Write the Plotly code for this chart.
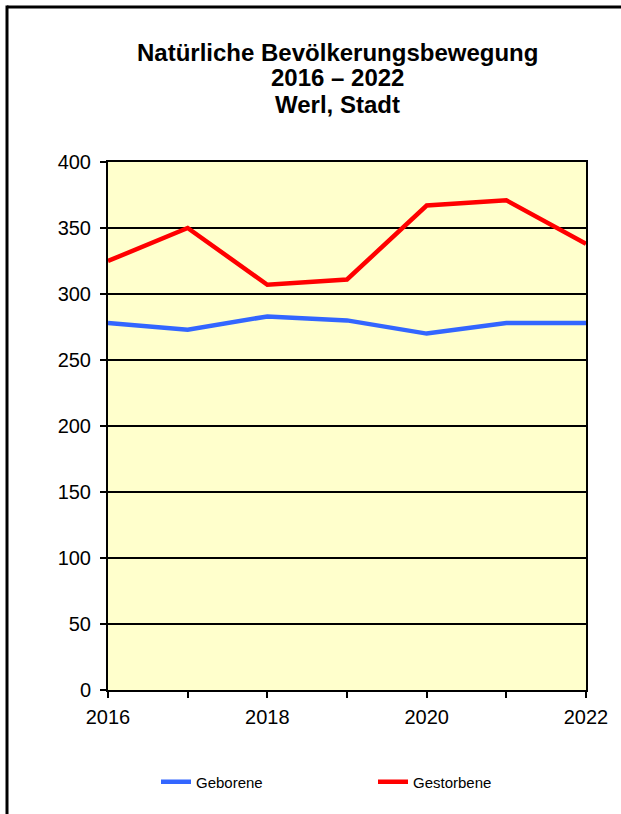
import plotly.graph_objects as go

years = [2016, 2017, 2018, 2019, 2020, 2021, 2022]
geborene = [278, 273, 283, 280, 270, 278, 278]
gestorbene = [325, 350, 307, 311, 367, 371, 338]
title_lines = ["Natürliche Bevölkerungsbewegung", "2016 – 2022", "Werl, Stadt"]
x_tick_labels = [2016, 2018, 2020, 2022]

W, H = 621, 814
L, R, T, B = 108, 586, 162, 690
pw, ph = R - L, B - T


def px_x(px):
    return (px - L) / pw


def px_y(py):
    return (B - py) / ph


font = "Liberation Sans, Arial, sans-serif"

fig = go.Figure()
fig.add_trace(go.Scatter(x=years, y=geborene, mode="lines", name="Geborene",
                         line=dict(color="#3366FF", width=4.5), legend="legend"))
fig.add_trace(go.Scatter(x=years, y=gestorbene, mode="lines", name="Gestorbene",
                         line=dict(color="#FF0000", width=4.5), legend="legend2"))

leg_common = dict(orientation="h", yanchor="middle", xanchor="left",
                  font=dict(size=15, family=font, color="black"),
                  bgcolor="rgba(0,0,0,0)", borderwidth=0)

fig.update_layout(
    width=W, height=H,
    margin=dict(l=L, r=W - R, t=T, b=H - B, pad=0),
    paper_bgcolor="white",
    plot_bgcolor="#FFFFCC",
    font=dict(family=font, color="black"),
    showlegend=True,
    legend=dict(x=px_x(156), y=px_y(782), **leg_common),
    legend2=dict(x=px_x(373), y=px_y(782), **leg_common),
    xaxis=dict(range=[2016, 2022], tickvals=x_tick_labels,
               ticks="outside", ticklen=6, tickwidth=2, tickcolor="black",
               ticklabelstandoff=2,
               minor=dict(tickvals=[y for y in years if y not in x_tick_labels],
                          ticks="outside", ticklen=6,
                          tickwidth=2, tickcolor="black", showgrid=False),
               showline=True, linecolor="black", linewidth=2, mirror=True,
               showgrid=False, zeroline=False,
               tickfont=dict(size=20, family=font, color="black")),
    yaxis=dict(range=[0, 400], dtick=50, ticks="outside", ticklen=6,
               tickwidth=2, tickcolor="black", ticklabelstandoff=5,
               showline=True, linecolor="black", linewidth=2, mirror=True,
               showgrid=True, gridcolor="black", gridwidth=2, zeroline=False,
               tickfont=dict(size=20, family=font, color="black")),
)

for i, line in enumerate(title_lines):
    fig.add_annotation(text="<b>" + line + "</b>", xref="paper", yref="paper",
                       x=px_x(337), y=px_y(52 + 26 * i), xanchor="center",
                       yanchor="middle", showarrow=False,
                       font=dict(size=24, family=font, color="black"))

# outer frame: top and left edges only (right/bottom lie outside the picture)
fig.add_shape(type="line", xref="paper", yref="paper",
              x0=px_x(7), x1=px_x(W + 20), y0=px_y(7), y1=px_y(7),
              line=dict(color="black", width=3), layer="above")
fig.add_shape(type="line", xref="paper", yref="paper",
              x0=px_x(7), x1=px_x(7), y0=px_y(5.5), y1=px_y(H + 20),
              line=dict(color="black", width=3), layer="above")

fig.write_html("out.html", config={"displayModeBar": False},
               post_script="document.body.style.margin='0';"
                           "document.body.style.overflow='hidden';"
                           "document.documentElement.style.overflow='hidden';")
